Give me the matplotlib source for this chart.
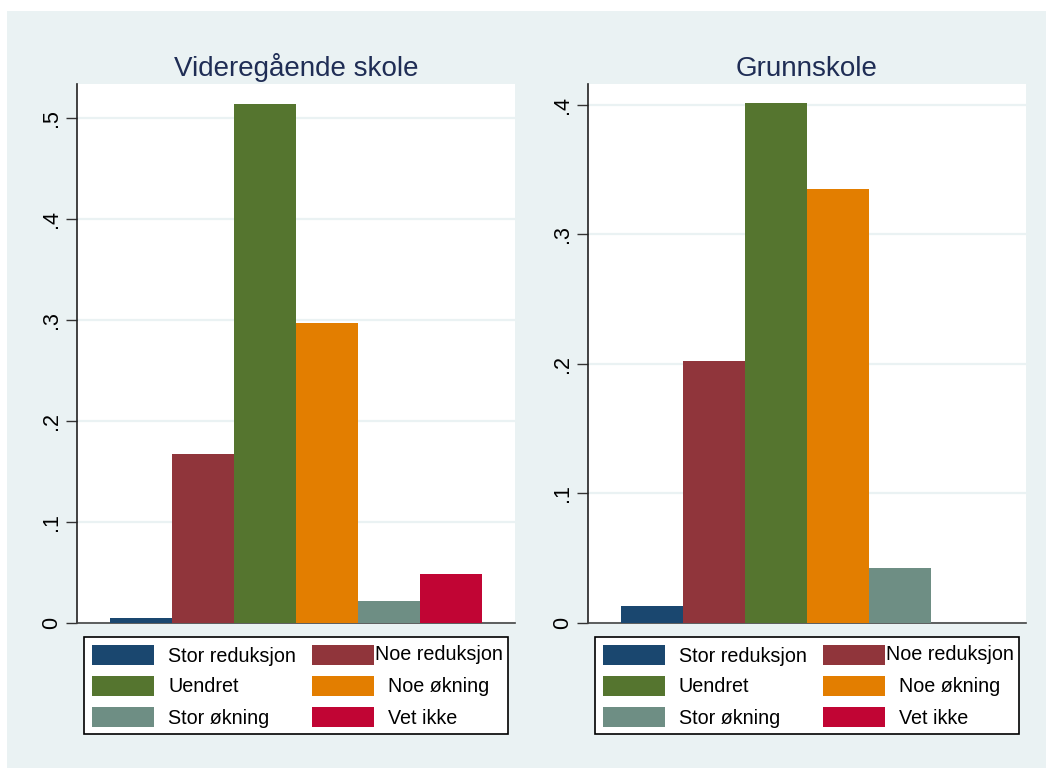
import matplotlib
matplotlib.use("Agg")
import matplotlib.pyplot as plt
from matplotlib.patches import Rectangle

plt.rcParams['font.family'] = ['Liberation Sans', 'DejaVu Sans']

categories = ["Stor reduksjon", "Noe reduksjon", "Uendret", "Noe økning", "Stor økning", "Vet ikke"]
panel_titles = ["Videregående skole", "Grunnskole"]
vgs_values = [0.005, 0.167, 0.514, 0.297, 0.022, 0.0485]
grunn_values = [0.013, 0.202, 0.401, 0.335, 0.0425, 0.0]
vgs_ticks = [0, 0.1, 0.2, 0.3, 0.4, 0.5]
vgs_ticklabels = ["0", ".1", ".2", ".3", ".4", ".5"]
grunn_ticks = [0, 0.1, 0.2, 0.3, 0.4]
grunn_ticklabels = ["0", ".1", ".2", ".3", ".4"]

colors = ["#1a476f", "#90353b", "#55752f", "#e37e00", "#6e8e84", "#c10534"]
BG = "#eaf2f3"
TITLE_C = "#1f2d55"

W, H = 1050, 773
fig = plt.figure(figsize=(W / 100, H / 100), dpi=100)
fig.patch.set_facecolor("white")

def fx(px):
    return px / W

def fy(py):
    return 1 - py / H

# outer graph region
fig.patches.append(Rectangle((fx(7), fy(768)), fx(1046) - fx(7), fy(11) - fy(768),
                             transform=fig.transFigure, facecolor=BG, edgecolor="none", zorder=-10))

panels = [
    (77, vgs_values, vgs_ticks, vgs_ticklabels, 0.5337, panel_titles[0]),
    (588, grunn_values, grunn_ticks, grunn_ticklabels, 0.416, panel_titles[1]),
]

for x0, vals, ticks, ticklabels, ymax, title in panels:
    ax = fig.add_axes([fx(x0), fy(623), fx(438), (623 - 84) / H])
    ax.set_zorder(1)
    ax.set_facecolor("white")
    xs = list(range(len(categories)))
    ax.bar(xs, vals, width=1.0, color=colors, edgecolor="none", zorder=3)
    ax.set_xlim(-1.03, 6.03)
    ax.set_ylim(0, ymax)
    ax.set_yticks(ticks)
    ax.set_yticklabels(ticklabels, rotation=90, va="center", fontsize=15.5)
    ax.set_xticks([])
    ax.grid(axis="y", color=BG, linewidth=1.6, zorder=1)
    ax.set_axisbelow(True)
    ax.tick_params(axis="y", length=8, width=1, color="#333333", pad=3)
    for s in ["top", "right"]:
        ax.spines[s].set_visible(False)
    ax.spines["left"].set_color("#222222")
    ax.spines["bottom"].set_color("#444444")
    ax.spines["left"].set_linewidth(1.2)
    ax.spines["bottom"].set_linewidth(1.2)
    ax.set_title(title, fontsize=20, color=TITLE_C, pad=6)

    # legend (manual, Stata-like)
    off = x0 - 77
    fig.patches.append(Rectangle((fx(84 + off), fy(734)), fx(424), 97 / H,
                                 transform=fig.transFigure, facecolor="white",
                                 edgecolor="black", linewidth=1.2, zorder=2))
    rows_y = [(645, 665), (676, 696), (707, 727)]
    text_x = [(168, 375), (168, 388), (168, 388)]
    for i, cat in enumerate(categories):
        r, c = divmod(i, 2)
        sx = (92, 312)[c] + off
        y0, y1 = rows_y[r]
        fig.patches.append(Rectangle((fx(sx), fy(y1)), fx(62), (y1 - y0) / H,
                                     transform=fig.transFigure, facecolor=colors[i],
                                     edgecolor="none", zorder=3))
        ty = (y0 + y1) / 2 + 1
        if i == 1:
            ty -= 2
        fig.text(fx(text_x[r][c] + off), fy(ty), cat, fontsize=14.2,
                 ha="left", va="center", color="black", zorder=4)

fig.savefig("out.png", dpi=100, facecolor=fig.get_facecolor())
